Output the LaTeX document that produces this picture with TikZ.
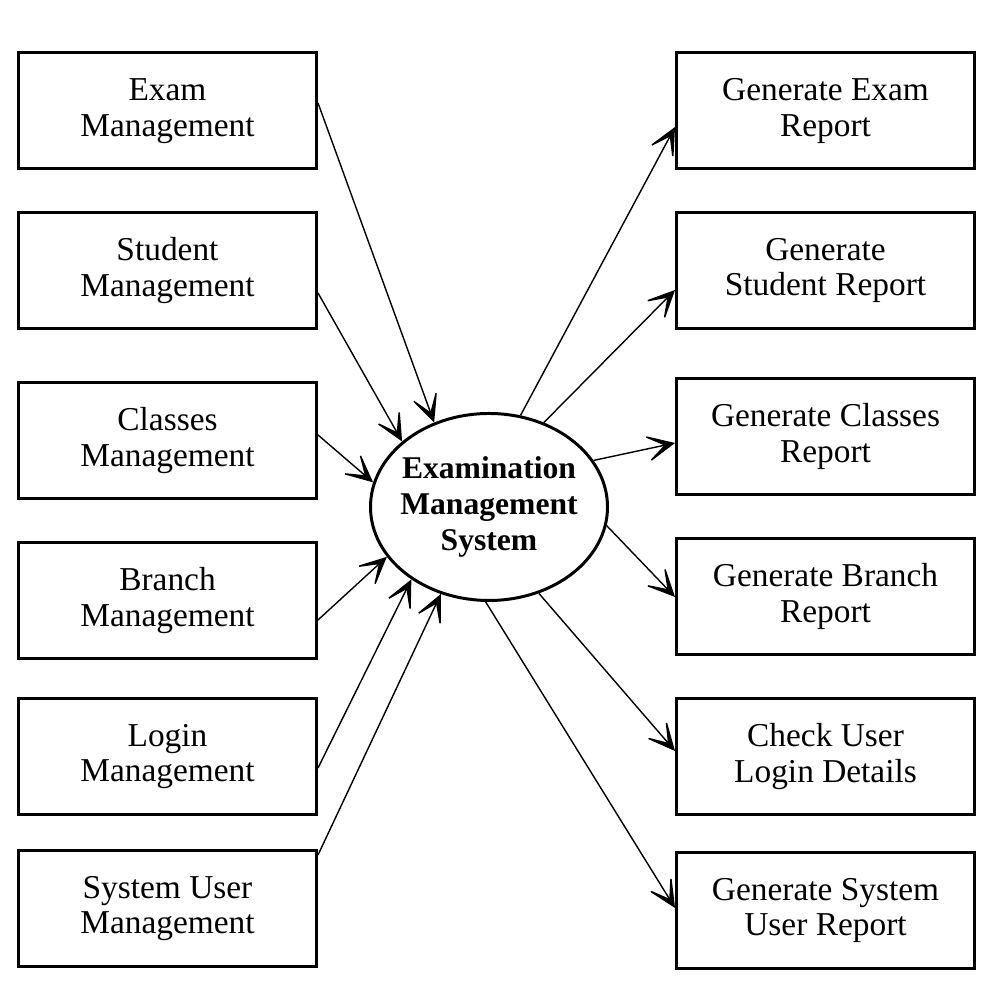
\documentclass[tikz,border=0pt]{standalone}
\usepackage{fontspec}
\setmainfont{Liberation Serif}
\usetikzlibrary{shapes.geometric,arrows.meta}

\begin{document}
\begin{tikzpicture}[
	modbox/.style={draw, line width=0.85pt, minimum width=2.98cm, minimum height=1.16cm, inner sep=0pt, align=center, font=\fontsize{9.5}{10.2}\selectfont},
	flow/.style={line width=0.4pt, -{Stealth[length=3.4mm, width=3.2mm, inset=2.3mm]}}
	]
			\useasboundingbox (0,0) rectangle (10,10);

			\node[modbox] (exam) at (1.675,8.89) {Exam\\Management};
			\node[modbox] (student) at (1.675,7.295) {Student\\Management};
			\node[modbox] (classes) at (1.675,5.595) {Classes\\Management};
			\node[modbox] (branch) at (1.675,3.995) {Branch\\Management};
			\node[modbox] (login) at (1.675,2.435) {Login\\Management};
			\node[modbox] (sysuser) at (1.675,0.915) {System User\\Management};

			\node[modbox] (examrep) at (8.255,8.89) {Generate Exam\\Report};
			\node[modbox] (studentrep) at (8.255,7.295) {Generate\\Student Report};
			\node[modbox] (classesrep) at (8.255,5.635) {Generate Classes\\Report};
			\node[modbox] (branchrep) at (8.255,4.035) {Generate Branch\\Report};
			\node[modbox] (logincheck) at (8.255,2.435) {Check User\\Login Details};
			\node[modbox] (sysuserrep) at (8.255,0.895) {Generate System\\User Report};

			\node[draw, ellipse, line width=0.85pt, minimum width=2.37cm, minimum height=1.87cm, inner xsep=-0.12cm, inner ysep=0pt, align=center, font=\fontsize{9}{10.2}\selectfont\bfseries] (ems) at (4.89,4.93) {Examination\\Management\\System};

			\draw[flow] ([yshift=0.08cm]exam.east) -- (ems.123);
			\draw[flow] ([yshift=-0.225cm]student.east) -- (ems.143);
			\draw[flow] ([yshift=0.055cm]classes.east) -- (ems.168);
			\draw[flow] ([yshift=-0.195cm]branch.east) -- (ems.206);
			\draw[flow] ([yshift=-0.115cm]login.east) -- (ems.223);
			\draw[flow] ([yshift=0.535cm]sysuser.east) -- (ems.241);

			\draw[flow] (ems.71) -- ([yshift=-0.16cm]examrep.west);
			\draw[flow] (ems.57) -- ([yshift=-0.195cm]studentrep.west);
			\draw[flow] (ems.24) -- ([yshift=-0.065cm]classesrep.west);
			\draw[flow] (ems.351) -- ([yshift=-0.005cm]branchrep.west);
			\draw[flow] (ems.300) -- ([yshift=0.055cm]logincheck.west);
			\draw[flow] (ems.268) -- ([yshift=0.025cm]sysuserrep.west);
		\end{tikzpicture}
\end{document}
